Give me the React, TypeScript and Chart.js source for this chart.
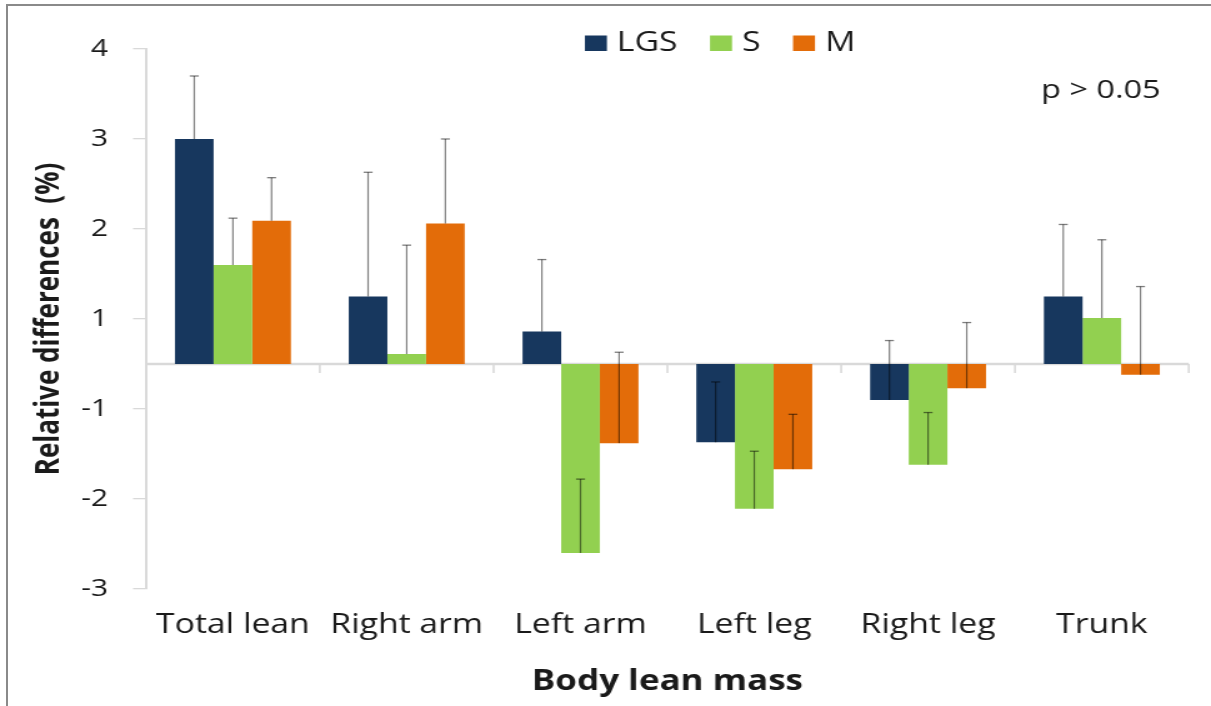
import React, { useEffect, useRef } from 'react';
import { Chart, registerables, LinearScale } from 'chart.js';

Chart.register(...registerables);

// ---------- data ----------
const categories = ['Total lean', 'Right arm', 'Left arm', 'Left leg', 'Right leg', 'Trunk'];
const seriesNames = ['LGS', 'S', 'M'];
const lgsValues = [3.0, 1.25, 0.86, -1.37, -0.9, 1.25];
const sValues = [1.6, 0.61, -2.6, -2.11, -1.62, 1.01];
const mValues = [2.09, 2.06, -1.38, -1.67, -0.77, -0.62];
// upper error (plus direction only)
const lgsErrPlus = [0.7, 1.38, 0.8, 0.67, 1.66, 0.8];
const sErrPlus = [0.52, 1.21, 0.82, 0.64, 0.58, 0.87];
const mErrPlus = [0.48, 0.94, 2.01, 0.61, 1.73, 1.98];
const yTickValues = [-3, -2, -1, 1, 2, 3, 4];
const seriesColors = ['#17375E', '#92D050', '#E36C09'];
const yAxisTitle = 'Relative differences  (%)';
const xAxisTitle = 'Body lean mass';
const noteText = 'p > 0.05';

const seriesValues = [lgsValues, sValues, mValues];
const seriesErrors = [lgsErrPlus, sErrPlus, mErrPlus];

// ---------- layout (image is horizontally stretched) ----------
const VIEW_W = 1211;
const VIEW_H = 706;
const SX = 1.25;
const CANVAS_W = Math.round(VIEW_W / SX);
const TEXT = '#1a1a1a';
const AXIS = '#d9d9d9';
const FONT = '"Open Sans", sans-serif';

// Axis in the picture has no zero label: 1 and -1 are one step apart around the zero line.
class BrokenLinearScale extends LinearScale {
  static id = 'brokenLinear';
  vis(v: number) {
    return v > 0 ? v - 0.5 : v < 0 ? v + 0.5 : 0;
  }
  buildTicks() {
    return yTickValues.filter((v) => v >= this.min && v <= this.max).map((v) => ({ value: v }));
  }
  getPixelForValue(value: number) {
    const a = this.vis(this.min);
    const b = this.vis(this.max);
    return this.getPixelForDecimal((this.vis(value) - a) / (b - a));
  }
  getValueForPixel(pixel: number) {
    const a = this.vis(this.min);
    const b = this.vis(this.max);
    const v = a + this.getDecimalForPixel(pixel) * (b - a);
    return v > 0 ? v + 0.5 : v < 0 ? v - 0.5 : 0;
  }
}
Chart.register(BrokenLinearScale as any);

const zeroAxisPlugin = {
  id: 'zeroAxis',
  beforeDatasetsDraw(chart: any) {
    const { ctx, chartArea } = chart;
    const y = chart.scales.y;
    const x = chart.scales.x;
    const y0 = y.getPixelForValue(0);
    ctx.save();
    ctx.strokeStyle = AXIS;
    ctx.lineWidth = 2.5;
    ctx.beginPath();
    ctx.moveTo(chartArea.left, y0);
    ctx.lineTo(chartArea.right, y0);
    ctx.stroke();
    ctx.lineWidth = 1.6;
    for (let i = 1; i <= categories.length; i++) {
      const px = x.getPixelForValue(i - 0.5);
      ctx.beginPath();
      ctx.moveTo(px, y0);
      ctx.lineTo(px, y0 + 9);
      ctx.stroke();
    }
    ctx.restore();
  },
};

const errorBarPlugin = {
  id: 'errorBars',
  afterDatasetsDraw(chart: any) {
    const { ctx } = chart;
    const y = chart.scales.y;
    ctx.save();
    ctx.strokeStyle = 'rgba(0,0,0,0.5)';
    seriesErrors.forEach((errs, di) => {
      const meta = chart.getDatasetMeta(di);
      meta.data.forEach((bar: any, i: number) => {
        const v = seriesValues[di][i];
        const top = v + errs[i];
        const y0 = y.getPixelForValue(v);
        const y1 = y.getPixelForValue(top);
        ctx.lineWidth = 1.2;
        ctx.beginPath();
        ctx.moveTo(bar.x, y0);
        ctx.lineTo(bar.x, y1);
        ctx.stroke();
        ctx.lineWidth = 1.3;
        ctx.beginPath();
        ctx.moveTo(bar.x - 3.6, y1);
        ctx.lineTo(bar.x + 3.6, y1);
        ctx.stroke();
      });
    });
    ctx.restore();
  },
};

const legendPlugin = {
  id: 'customLegend',
  afterDraw(chart: any) {
    const { ctx } = chart;
    ctx.save();
    ctx.font = `27px ${FONT}`;
    ctx.textBaseline = 'middle';
    ctx.textAlign = 'left';
    let x = 468;
    const cy = 43;
    seriesNames.forEach((name, i) => {
      ctx.fillStyle = seriesColors[i];
      ctx.fillRect(x, cy - 7.5, 17.6, 15.5);
      x += 17.6 + 8;
      ctx.fillStyle = TEXT;
      ctx.fillText(name, x, cy);
      x += ctx.measureText(name).width + 26;
    });
    ctx.font = `26px ${FONT}`;
    ctx.fillText(noteText, 833, 91);
    ctx.restore();
  },
};

export default function App() {
  const canvasRef = useRef<HTMLCanvasElement | null>(null);

  useEffect(() => {
    const canvas = canvasRef.current;
    if (!canvas) return;
    document.body.style.overflow = 'hidden';
    Chart.defaults.font.family = FONT;
    const chart = new Chart(canvas, {
      type: 'bar',
      data: {
        labels: categories,
        datasets: seriesNames.map((name, i) => ({
          label: name,
          data: seriesValues[i],
          backgroundColor: seriesColors[i],
          borderWidth: 0,
        })),
      },
      options: {
        responsive: false,
        animation: false,
        devicePixelRatio: 1,
        layout: { padding: { left: 0, right: 17.8, top: 49, bottom: 7.4 } },
        datasets: { bar: { categoryPercentage: 0.667, barPercentage: 1 } } as any,
        plugins: { legend: { display: false }, tooltip: { enabled: false } },
        scales: {
          x: {
            grid: { display: false, drawTicks: false },
            border: { display: false },
            ticks: { padding: 20.7, color: TEXT, font: { size: 27, family: FONT } },
            title: {
              display: true,
              text: xAxisTitle,
              color: TEXT,
              font: { size: 28, weight: 'bold', family: FONT },
              padding: { top: 2.3, bottom: 0 },
            },
          },
          y: {
            type: 'brokenLinear' as any,
            min: -3,
            max: 4,
            grid: { drawOnChartArea: false, drawTicks: true, tickLength: 10.4, color: AXIS, lineWidth: 1.3 },
            border: { display: true, color: AXIS, width: 2 },
            ticks: {
              padding: 20,
              color: TEXT,
              font: { size: 24, family: FONT },
              callback: (v: any) => String(v),
            },
            title: {
              display: true,
              text: yAxisTitle,
              color: TEXT,
              font: { size: 26, weight: 'bold', family: FONT },
              padding: { top: 24.4, bottom: -10.6 },
            },
          } as any,
        },
      },
      plugins: [zeroAxisPlugin, errorBarPlugin, legendPlugin],
    });
    return () => chart.destroy();
  }, []);

  return (
    <>
      <canvas
        ref={canvasRef}
        width={CANVAS_W}
        height={VIEW_H}
        style={{ position: 'fixed', left: 0, top: 0, width: `${VIEW_W}px`, height: `${VIEW_H}px`, zIndex: 0 }}
      />
      <div
        style={{
          position: 'fixed',
          left: 1198,
          top: 0,
          width: 20,
          height: VIEW_H,
          background: '#ffffff',
          zIndex: 1,
          pointerEvents: 'none',
        }}
      />
      <div
        style={{
          position: 'fixed',
          left: 6,
          top: 4,
          width: 1300,
          height: 800,
          borderLeft: '2px solid #8a8a8a',
          borderTop: '2px solid #8a8a8a',
          zIndex: 2,
          pointerEvents: 'none',
        }}
      />
    </>
  );
}
